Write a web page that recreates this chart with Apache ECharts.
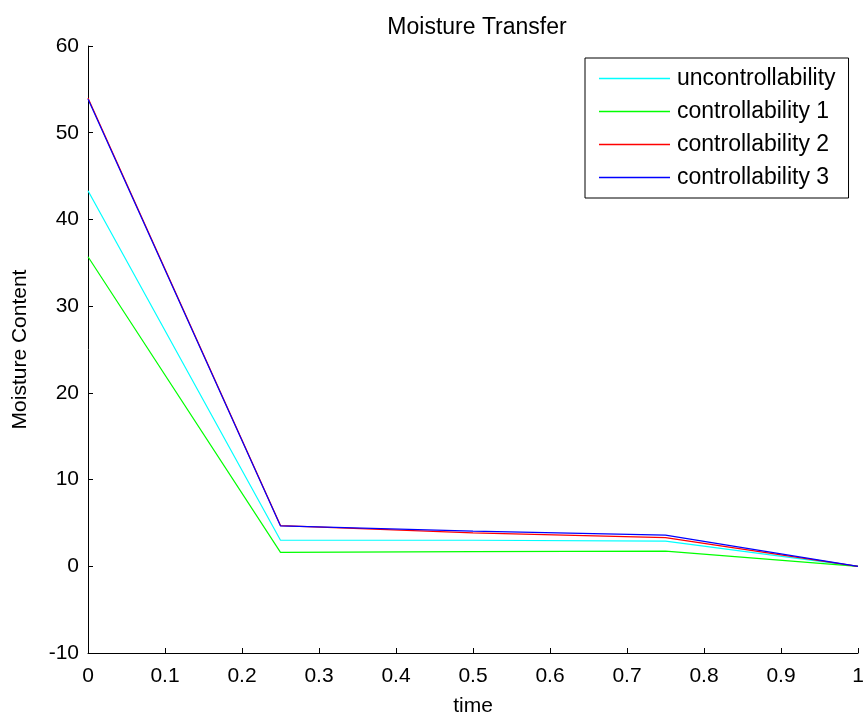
<!DOCTYPE html>
<html>
<head>
<meta charset="utf-8">
<script src="https://cdn.jsdelivr.net/npm/echarts@6/dist/echarts.min.js"></script>
<style>
  html, body { margin: 0; padding: 0; background: #fff; }
  #chart { width: 864px; height: 720px; }
</style>
</head>
<body>
<div id="chart"></div>
<script>
// data
const timePoints = [0, 0.25, 0.5, 0.75, 1];
const uncontrollability = [43.3, 3.0, 3.0, 2.9, 0];
const controllability1 = [35.7, 1.6, 1.7, 1.75, 0];
const controllability2 = [54.0, 4.7, 3.85, 3.3, 0];
const controllability3 = [53.9, 4.65, 4.05, 3.6, 0];

const seriesNames = ['uncontrollability', 'controllability 1', 'controllability 2', 'controllability 3'];
const seriesColors = ['#00ffff', '#00ff00', '#ff0000', '#0000ff'];
const seriesValues = [uncontrollability, controllability1, controllability2, controllability3];

const font = 'Liberation Sans, Arial, sans-serif';

const chart = echarts.init(document.getElementById('chart'));

chart.setOption({
    animation: false,
    backgroundColor: '#fff',
    title: {
        text: 'Moisture Transfer',
        left: 472, top: 11, textAlign: 'center',
        textStyle: { fontFamily: font, fontSize: 23, fontWeight: 'normal', color: '#000' }
    },
    grid: { left: 88, right: 6, top: 46, bottom: 67, outerBoundsMode: 'none' },
    legend: {
        orient: 'vertical',
        left: 585, top: 58,
        data: seriesNames,
        icon: 'rect',
        itemWidth: 71, itemHeight: 1.5,
        itemGap: 10,
        padding: [9, 13, 9, 14],
        borderColor: '#000', borderWidth: 1,
        backgroundColor: '#fff',
        textStyle: { fontFamily: font, fontSize: 23, color: '#000', padding: [0, 0, 0, 2] }
    },
    xAxis: {
        type: 'value', min: 0, max: 1, interval: 0.1,
        name: 'time', nameLocation: 'middle', nameGap: 43,
        nameTextStyle: { fontFamily: font, fontSize: 21, color: '#000' },
        axisLine: { onZero: false, lineStyle: { color: '#000' } },
        axisTick: { inside: true, length: 5, lineStyle: { color: '#000' } },
        axisLabel: { fontFamily: font, fontSize: 21, color: '#000', margin: 13 },
        splitLine: { show: false }
    },
    yAxis: {
        type: 'value', min: -10, max: 60, interval: 10,
        name: 'Moisture Content', nameLocation: 'middle', nameGap: 57,
        nameTextStyle: { fontFamily: font, fontSize: 21, color: '#000' },
        axisLine: { show: true, lineStyle: { color: '#000' } },
        axisTick: { show: true, inside: true, length: 5, lineStyle: { color: '#000' } },
        axisLabel: { fontFamily: font, fontSize: 21, color: '#000', margin: 9 },
        splitLine: { show: false }
    },
    series: seriesNames.map((name, i) => ({
        name: name,
        type: 'line',
        showSymbol: false,
        symbol: 'none',
        color: seriesColors[i],
        lineStyle: { width: 1.2, color: seriesColors[i] },
        data: timePoints.map((t, j) => [t, seriesValues[i][j]])
    }))
});
</script>
</body>
</html>
